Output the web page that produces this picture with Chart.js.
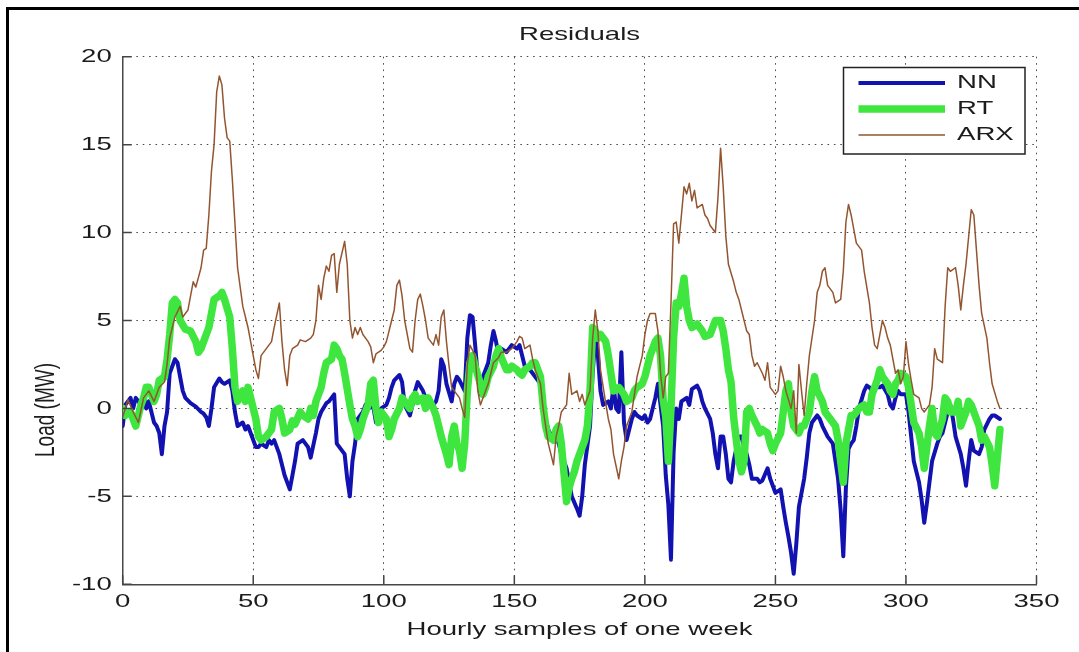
<!DOCTYPE html>
<html>
<head>
<meta charset="utf-8">
<title>Residuals</title>
<script src="https://cdn.jsdelivr.net/npm/chart.js@4.4.0/dist/chart.umd.min.js"></script>
<style>
  html, body { margin: 0; padding: 0; background: #fff; }
  canvas { display: block; }
</style>
</head>
<body>
<canvas id="residualsChart" width="1079" height="652"></canvas>
<script>
// residual load (MW) per hour of the test week, [hour, residual]
const nnSeries = [
  [0,-1.0],[1,0.2],[3,0.6],[4,0.0],[5,0.6],[7,0.2],[8,0.8],[9,0.0],[10,0.4],[12,-0.8],[13,-1.0],[14,-1.4],[15,-2.6],[16,-1.0],[17,-0.2],[18,2.0],[19,2.4],[20,2.8],[21,2.6],[22,1.8],[23,1.0],[24,0.6],[26,0.3],[28,0.1],[30,-0.2],[31,-0.3],[32,-0.5],[33,-1.0],[34,0.0],[35,1.2],[37,1.7],[38,1.5],[39,1.4],[41,1.6],[42,1.0],[43,-0.2],[44,-1.0],[46,-0.8],[47,-1.2],[48,-1.0],[49,-1.4],
  [51,-2.2],[52,-2.2],[53,-2.0],[55,-2.2],[56,-1.8],[57,-2.0],[58,-1.8],[60,-2.6],[61,-3.2],[62,-3.8],[64,-4.6],[65,-3.8],[66,-3.0],[67,-2.0],[69,-1.8],[70,-2.0],[71,-2.2],[72,-2.8],[74,-1.4],[75,-0.6],[76,-0.2],[78,0.3],[79,0.4],[80,0.6],[81,0.8],[82,-2.0],[83,-2.2],[85,-2.6],[86,-4.0],[87,-5.0],[88,-3.0],[89,-2.0],[90,-0.6],[92,-0.2],[93,0.2],[94,0.0],[96,0.1],[97,-0.8],[98,-0.2],[99,0.0],
  [101,0.2],[102,0.6],[103,1.2],[104,1.6],[106,1.9],[107,1.5],[108,0.2],[110,-0.4],[111,0.2],[112,1.0],[113,1.5],[115,1.0],[116,0.6],[117,0.4],[119,0.2],[120,0.4],[121,1.0],[122,2.8],[123,2.4],[124,1.4],[126,0.4],[127,1.4],[128,1.8],[129,1.6],[131,1.0],[132,4.0],[133,5.3],[134,5.2],[135,3.6],[136,1.8],[137,0.8],[138,1.8],[140,2.6],[141,3.6],[142,4.4],[143,3.8],[144,3.0],[145,3.4],[147,3.2],[148,3.4],[149,3.6],
  [151,3.4],[152,3.6],[153,3.0],[154,2.4],[156,2.2],[157,2.0],[158,1.8],[160,1.4],[161,0.2],[162,-0.6],[163,-1.2],[165,-1.8],[166,-1.6],[167,-2.0],[168,-2.6],[170,-3.4],[171,-4.2],[172,-5.0],[174,-5.7],[175,-6.1],[176,-5.0],[177,-3.2],[179,-1.0],[180,2.0],[181,4.0],[182,3.0],[183,1.0],[184,0.2],[186,0.4],[187,0.0],[188,1.3],[189,0.0],[190,-0.2],[191,3.2],[192,-0.8],[193,-1.8],[195,-0.6],[196,-0.2],[197,-0.4],[199,-0.6],
  [200,-0.4],[201,-0.8],[202,-0.6],[204,0.6],[205,1.4],[206,0.2],[207,-1.0],[208,-3.8],[209,-5.5],[210,-8.6],[211,-2.5],[212,0.0],[213,-0.6],[214,0.4],[216,0.6],[217,0.2],[218,1.1],[220,1.3],[221,1.0],[222,0.4],[223,0.0],[225,-0.6],[226,-1.4],[227,-2.6],[228,-3.4],[229,-1.6],[230,-1.6],[231,-2.6],[232,-4.0],[233,-4.2],[234,-3.0],[236,-1.6],[237,-1.6],[238,-2.2],[239,-2.6],[240,-3.2],[241,-4.0],[243,-4.0],[244,-4.2],[245,-4.1],[247,-3.4],[248,-4.0],[249,-4.4],
  [250,-4.8],[252,-4.6],[253,-5.6],[254,-6.5],[255,-7.3],[256,-8.2],[257,-9.4],[258,-7.7],[259,-5.6],[261,-4.0],[262,-2.8],[263,-1.4],[264,-0.8],[266,-0.4],[267,-0.6],[268,-1.0],[270,-1.6],[271,-1.8],[272,-2.0],[273,-3.0],[274,-4.0],[275,-5.8],[276,-8.4],[277,-4.5],[278,-2.3],[279,-2.0],[280,-1.8],[281,-1.0],[282,0.0],[284,1.0],[285,1.3],[286,1.2],[287,1.0],[289,1.2],[290,1.2],[291,1.3],[293,0.8],[294,0.2],[295,0.0],[296,0.6],[297,1.0],[298,0.8],
  [300,0.8],[301,-0.2],[302,-1.6],[303,-3.0],[305,-4.2],[306,-5.2],[307,-6.5],[308,-5.4],[309,-4.2],[310,-3.0],[312,-2.0],[313,-1.6],[314,-1.4],[316,-0.2],[317,0.2],[318,-0.6],[319,-1.6],[321,-2.6],[322,-3.4],[323,-4.4],[324,-3.0],[325,-1.8],[326,-2.4],[328,-2.6],[329,-2.2],[330,-1.2],[332,-0.6],[333,-0.4],[334,-0.4],[336,-0.6]
];

const rtSeries = [
  [0,0.0],[1,-0.4],[3,-0.2],[4,-0.6],[5,-1.0],[7,0.2],[8,0.6],[9,1.2],[10,1.2],[12,0.4],[13,0.8],[14,1.6],[16,1.8],[17,2.8],[18,4.2],[19,6.0],[20,6.2],[21,6.0],[22,5.0],[24,4.5],[26,4.4],[28,3.8],[29,3.2],[30,3.4],[32,4.2],[33,4.6],[34,5.4],[35,6.2],[37,6.4],[38,6.6],[39,6.2],[41,5.2],[42,3.4],[43,1.2],[44,0.4],[46,1.0],[47,0.4],[48,1.2],[49,0.6],
  [51,-0.6],[52,-1.6],[53,-1.8],[55,-1.6],[56,-1.4],[57,-1.2],[58,-0.2],[60,0.0],[61,-0.6],[62,-1.4],[64,-1.2],[65,-0.7],[66,-0.9],[68,-0.2],[69,-0.4],[71,-0.6],[72,0.0],[73,-0.4],[74,0.4],[76,1.2],[77,2.0],[78,2.6],[80,2.8],[81,3.6],[82,3.4],[83,3.0],[84,2.8],[85,2.0],[87,0.2],[88,-0.6],[89,-1.0],[90,-1.6],[91,-1.2],[92,-0.6],[94,0.2],[95,1.4],[96,1.6],[97,0.0],[98,-0.8],[99,-0.2],
  [101,-0.6],[102,-1.6],[103,-1.2],[104,-0.6],[106,0.0],[107,0.6],[108,0.4],[110,0.0],[111,0.6],[112,0.8],[113,0.4],[115,0.6],[116,0.0],[117,0.6],[119,0.0],[120,-0.4],[121,-1.0],[122,-1.6],[124,-2.6],[125,-3.2],[126,-1.6],[127,-1.0],[128,-2.0],[129,-2.4],[130,-3.4],[131,-2.0],[132,1.0],[133,2.6],[134,3.0],[135,2.4],[137,1.4],[138,0.8],[139,1.2],[140,1.8],[142,2.4],[143,3.0],[144,3.4],[145,2.9],[147,2.2],[148,2.2],[149,2.4],
  [151,2.2],[152,2.0],[153,1.9],[154,2.2],[156,2.4],[157,2.6],[158,2.6],[160,1.8],[161,0.2],[162,-1.0],[163,-1.6],[165,-1.8],[166,-1.2],[167,-1.0],[168,-2.0],[170,-5.3],[171,-4.5],[172,-4.0],[173,-3.6],[174,-3.0],[176,-2.2],[177,-1.8],[178,-1.0],[179,1.0],[180,4.6],[181,4.4],[182,4.0],[183,4.2],[184,4.0],[185,3.8],[186,3.0],[187,2.0],[188,1.0],[190,1.2],[191,1.0],[192,0.8],[193,0.4],[195,0.6],[196,1.0],[197,1.2],[199,1.4],
  [200,1.8],[201,2.4],[202,3.0],[204,3.8],[205,4.0],[206,3.0],[207,0.5],[208,-0.5],[209,-3.0],[210,0.0],[211,4.0],[212,6.0],[213,5.8],[214,6.5],[215,7.4],[216,5.8],[217,5.0],[218,4.6],[220,4.8],[221,4.6],[222,4.4],[223,4.1],[225,4.2],[226,4.6],[227,5.0],[229,5.0],[230,4.4],[231,3.4],[232,2.2],[233,1.5],[234,-0.5],[236,-3.0],[237,-3.6],[238,-3.0],[239,-0.2],[240,0.0],[241,-0.4],[243,-1.0],[244,-1.4],[245,-1.2],[247,-1.4],[248,-2.0],[249,-2.4],
  [250,-2.0],[252,-1.4],[253,-0.2],[254,1.0],[255,1.4],[256,-0.2],[257,-1.0],[259,-1.4],[260,-1.0],[261,-1.0],[263,-0.2],[264,1.0],[265,1.8],[266,1.0],[268,0.4],[269,-0.2],[270,-0.4],[271,-0.6],[273,-1.0],[274,-1.8],[275,-3.0],[276,-4.2],[277,-2.0],[279,-0.4],[280,-0.4],[281,-0.2],[282,0.0],[284,0.2],[285,-0.2],[286,-0.2],[287,0.8],[289,1.6],[290,2.2],[291,1.8],[293,1.4],[294,1.0],[295,0.8],[296,1.4],[297,1.6],[298,2.0],
  [300,1.8],[301,1.2],[302,0.2],[303,-0.8],[305,-1.4],[306,-2.2],[307,-3.4],[308,-2.2],[309,-1.0],[310,0.0],[311,-1.4],[312,-1.6],[314,-0.6],[315,0.6],[316,0.4],[317,-0.2],[319,-0.2],[320,0.4],[321,-1.0],[323,-0.2],[324,0.4],[325,0.2],[326,-0.2],[328,-1.0],[329,-1.8],[330,-1.6],[332,-2.2],[333,-3.2],[334,-4.4],[336,-1.2]
];

const arxSeries = [
  [0,-0.5],[2,0.5],[4,-0.2],[6,-0.8],[8,0.6],[10,1.0],[12,0.4],[14,1.2],[16,1.5],[17,2.5],[18,4.0],[20,5.2],[22,5.8],[23,5.2],[25,5.6],[27,7.2],[28,6.9],[30,8.0],[31,9.0],[32,9.1],[33,11.0],[34,13.5],[35,15.0],[36,18.0],[37,18.9],[38,18.4],[39,16.5],[40,15.4],[41,15.2],[42,13.0],[43,10.5],[44,8.0],[46,5.8],[48,4.6],[49,3.8],
  [51,2.2],[52,1.7],[53,3.0],[55,3.4],[57,3.8],[58,4.6],[60,6.0],[61,3.8],[62,2.2],[63,1.3],[64,3.0],[65,3.4],[67,3.6],[68,3.9],[70,3.8],[72,4.0],[73,4.2],[74,5.0],[75,7.0],[76,6.2],[77,7.4],[78,8.1],[79,7.8],[80,8.7],[81,8.8],[82,6.6],[83,8.2],[85,9.5],[86,8.2],[87,5.0],[88,4.0],[89,4.6],[90,4.2],[91,4.6],[92,4.2],[94,3.8],[95,3.5],[96,2.6],[97,3.1],[99,3.3],
  [100,3.5],[101,3.8],[103,5.0],[104,5.6],[105,7.0],[106,7.3],[107,6.4],[108,5.0],[110,3.4],[111,3.2],[112,5.0],[113,6.2],[114,6.5],[115,5.8],[116,5.0],[117,4.0],[119,3.6],[120,4.2],[121,3.6],[122,5.2],[123,5.6],[124,3.8],[125,2.4],[126,1.2],[128,0.8],[129,0.6],[130,0.0],[131,-0.5],[132,2.5],[133,3.6],[135,3.0],[136,1.0],[137,0.2],[139,1.0],[140,1.4],[141,2.0],[142,2.6],[144,2.9],[145,3.2],[147,3.2],[149,3.4],
  [151,3.8],[152,4.1],[153,4.0],[154,3.4],[156,3.6],[157,2.8],[158,2.2],[160,1.4],[161,0.0],[162,-1.0],[163,-2.0],[164,-2.6],[165,-3.2],[166,-1.6],[167,-1.0],[168,-0.2],[170,0.2],[171,2.0],[172,0.8],[174,1.0],[175,0.4],[176,0.8],[177,0.2],[179,1.0],[180,4.0],[181,5.6],[182,4.4],[183,2.2],[185,0.3],[186,-0.6],[187,-1.2],[188,-2.6],[190,-4.0],[191,-3.0],[192,-2.2],[193,-1.0],[195,-0.2],[196,0.8],[197,1.8],[199,3.0],
  [200,4.2],[201,5.0],[202,5.4],[204,5.4],[205,4.4],[206,2.0],[207,0.6],[208,1.8],[209,2.0],[210,6.0],[211,10.5],[212,10.6],[213,9.4],[214,11.0],[215,12.6],[216,12.2],[217,12.8],[218,11.8],[219,12.4],[220,11.4],[222,11.6],[223,11.0],[224,10.8],[225,10.4],[227,10.0],[228,12.0],[229,14.8],[230,12.6],[231,9.8],[232,8.2],[234,7.2],[235,6.6],[236,6.2],[238,5.0],[239,4.4],[240,4.2],[241,3.0],[242,2.4],[243,2.6],[245,2.0],[246,1.6],[247,2.6],[248,1.2],
  [250,0.8],[251,1.0],[252,2.4],[253,1.8],[254,1.0],[256,0.0],[257,1.0],[258,-1.4],[259,2.5],[260,1.0],[261,-0.4],[262,1.4],[263,3.0],[265,5.0],[266,6.6],[267,7.0],[268,7.8],[269,8.0],[270,7.0],[271,6.8],[272,6.6],[273,6.0],[275,6.2],[276,7.8],[277,10.6],[278,11.6],[279,11.0],[280,10.2],[281,9.4],[283,9.0],[284,7.8],[286,6.0],[287,4.6],[288,3.6],[289,3.4],[291,5.0],[292,4.6],[293,4.0],[294,3.6],[296,2.0],[297,2.2],[298,1.4],[299,1.8],
  [300,3.8],[301,2.5],[302,1.6],[303,0.8],[305,0.6],[306,0.0],[307,-0.2],[309,0.2],[310,1.2],[311,3.4],[312,2.8],[314,2.6],[315,5.8],[316,8.0],[317,7.8],[319,8.0],[320,7.0],[321,5.6],[322,7.0],[323,8.2],[325,11.3],[326,11.0],[327,9.0],[328,7.0],[329,5.4],[331,4.0],[332,2.6],[333,1.4],[335,0.4],[336,0.0]
];

const seriesNames = ['NN', 'RT', 'ARX'];
const xTickValues = [0, 50, 100, 150, 200, 250, 300, 350];
const yTickValues = [-10, -5, 0, 5, 10, 15, 20];

const FONT = { family: '"Liberation Sans", Arial, sans-serif', size: 19, weight: 'normal' };
const INK = '#1c1c1c';
// the figure's lettering is set wide; stretch every glyph sideways about its anchor
const TEXT_WIDEN = 1.45;

const widenText = {
  id: 'widenText',
  beforeInit(chart) {
    const ctx = chart.ctx;
    const fill = ctx.fillText.bind(ctx);
    ctx.fillText = function (text, x, y, maxWidth) {
      const m = ctx.getTransform();
      const p = m.transformPoint(new DOMPoint(x, y));
      ctx.setTransform(new DOMMatrix().translate(p.x, p.y).scale(TEXT_WIDEN, 1).translate(-p.x, -p.y).multiply(m));
      if (maxWidth === undefined) fill(text, x, y); else fill(text, x, y, maxWidth);
      ctx.setTransform(m);
    };
  }
};

// figure border, inward ticks, y label and the boxed legend
const figureDecor = {
  id: 'figureDecor',
  afterDraw(chart, args, opts) {
    const { ctx, chartArea: a, scales: { x, y } } = chart;
    ctx.save();

    ctx.strokeStyle = '#000';
    ctx.lineWidth = 3;
    ctx.strokeRect(7.5, 8.5, chart.width + 20, chart.height + 20);

    ctx.strokeStyle = '#444';
    ctx.lineWidth = 1.5;
    ctx.beginPath();
    x.ticks.forEach(t => {
      const px = x.getPixelForValue(t.value);
      ctx.moveTo(px, a.bottom);
      ctx.lineTo(px, a.bottom - opts.tickLen);
    });
    y.ticks.forEach(t => {
      const py = y.getPixelForValue(t.value);
      ctx.moveTo(a.left, py);
      ctx.lineTo(a.left + opts.tickLen, py);
    });
    ctx.stroke();

    ctx.fillStyle = INK;
    ctx.font = `${FONT.size}px ${FONT.family}`;
    ctx.textAlign = 'center';
    ctx.textBaseline = 'middle';
    ctx.save();
    ctx.translate(opts.yTitleX, opts.yTitleY);
    ctx.rotate(-Math.PI / 2);
    ctx.fillText('Load (MW)', 0, 0);
    ctx.restore();

    const lg = opts.legend;
    ctx.fillStyle = '#fff';
    ctx.fillRect(lg.left, lg.top, lg.width, lg.height);
    ctx.strokeStyle = '#222';
    ctx.lineWidth = 1.5;
    ctx.strokeRect(lg.left, lg.top, lg.width, lg.height);
    ctx.textAlign = 'left';
    ctx.fillStyle = INK;
    chart.data.datasets.forEach((ds, i) => {
      const ly = lg.top + lg.firstRow + i * lg.rowGap;
      ctx.strokeStyle = ds.borderColor;
      ctx.lineWidth = ds.borderWidth;
      ctx.beginPath();
      ctx.moveTo(lg.left + lg.lineStart, ly);
      ctx.lineTo(lg.left + lg.lineEnd, ly);
      ctx.stroke();
      ctx.fillText(ds.label, lg.left + lg.textStart, ly);
    });

    ctx.restore();
  }
};

const toPoints = s => s.map(([h, v]) => ({ x: h, y: v }));

const ctx = document.getElementById('residualsChart').getContext('2d');
const residualsChart = new Chart(ctx, {
  type: 'line',
  data: {
    datasets: [{
      label: seriesNames[0],
      data: toPoints(nnSeries),
      borderColor: '#1212b0',
      borderWidth: 4,
      order: 2
    }, {
      label: seriesNames[1],
      data: toPoints(rtSeries),
      borderColor: '#3fe63f',
      borderWidth: 7.5,
      order: 1
    }, {
      label: seriesNames[2],
      data: toPoints(arxSeries),
      borderColor: '#93552f',
      borderWidth: 1.5,
      order: 0
    }]
  },
  options: {
    responsive: false,
    animation: false,
    parsing: false,
    layout: { padding: { left: 0, right: 42.5, top: 0, bottom: 0 } },
    elements: {
      point: { radius: 0, hoverRadius: 0 },
      line: { tension: 0, fill: false, borderJoinStyle: 'round', borderCapStyle: 'round' }
    },
    scales: {
      x: {
        type: 'linear',
        min: 0,
        max: 350,
        afterBuildTicks: s => { s.ticks = xTickValues.map(v => ({ value: v })); },
        afterFit: s => { s.height = 67.7; },
        ticks: { color: INK, font: FONT, padding: 6, autoSkip: false, maxRotation: 0 },
        grid: { color: '#4a4a4a', lineWidth: 1, drawTicks: false },
        border: { display: true, color: '#474747', width: 1.5, dash: [1.6, 4.8] },
        title: { display: true, text: 'Hourly samples of one week', color: INK, font: FONT, padding: { top: 0, bottom: 11 } }
      },
      y: {
        type: 'linear',
        min: -10,
        max: 20,
        afterBuildTicks: s => { s.ticks = yTickValues.map(v => ({ value: v })); },
        afterFit: s => { s.width = 122.7; },
        ticks: { color: INK, font: FONT, padding: 11 },
        grid: { color: '#4a4a4a', lineWidth: 1, drawTicks: false },
        border: { display: true, color: '#474747', width: 1.5, dash: [1.6, 4.8] }
      }
    },
    plugins: {
      legend: { display: false },
      tooltip: { enabled: false },
      title: {
        display: true,
        text: 'Residuals',
        fullSize: false,
        color: INK,
        font: FONT,
        padding: { top: 23.6, bottom: 10.3 }
      },
      figureDecor: {
        tickLen: 9,
        yTitleX: 46,
        yTitleY: 410,
        legend: { left: 843.5, top: 67.5, width: 181.5, height: 86.5, firstRow: 15.5, rowGap: 26, lineStart: 15, lineEnd: 101.5, textStart: 113.5 }
      }
    }
  },
  plugins: [widenText, figureDecor]
});
</script>
</body>
</html>
